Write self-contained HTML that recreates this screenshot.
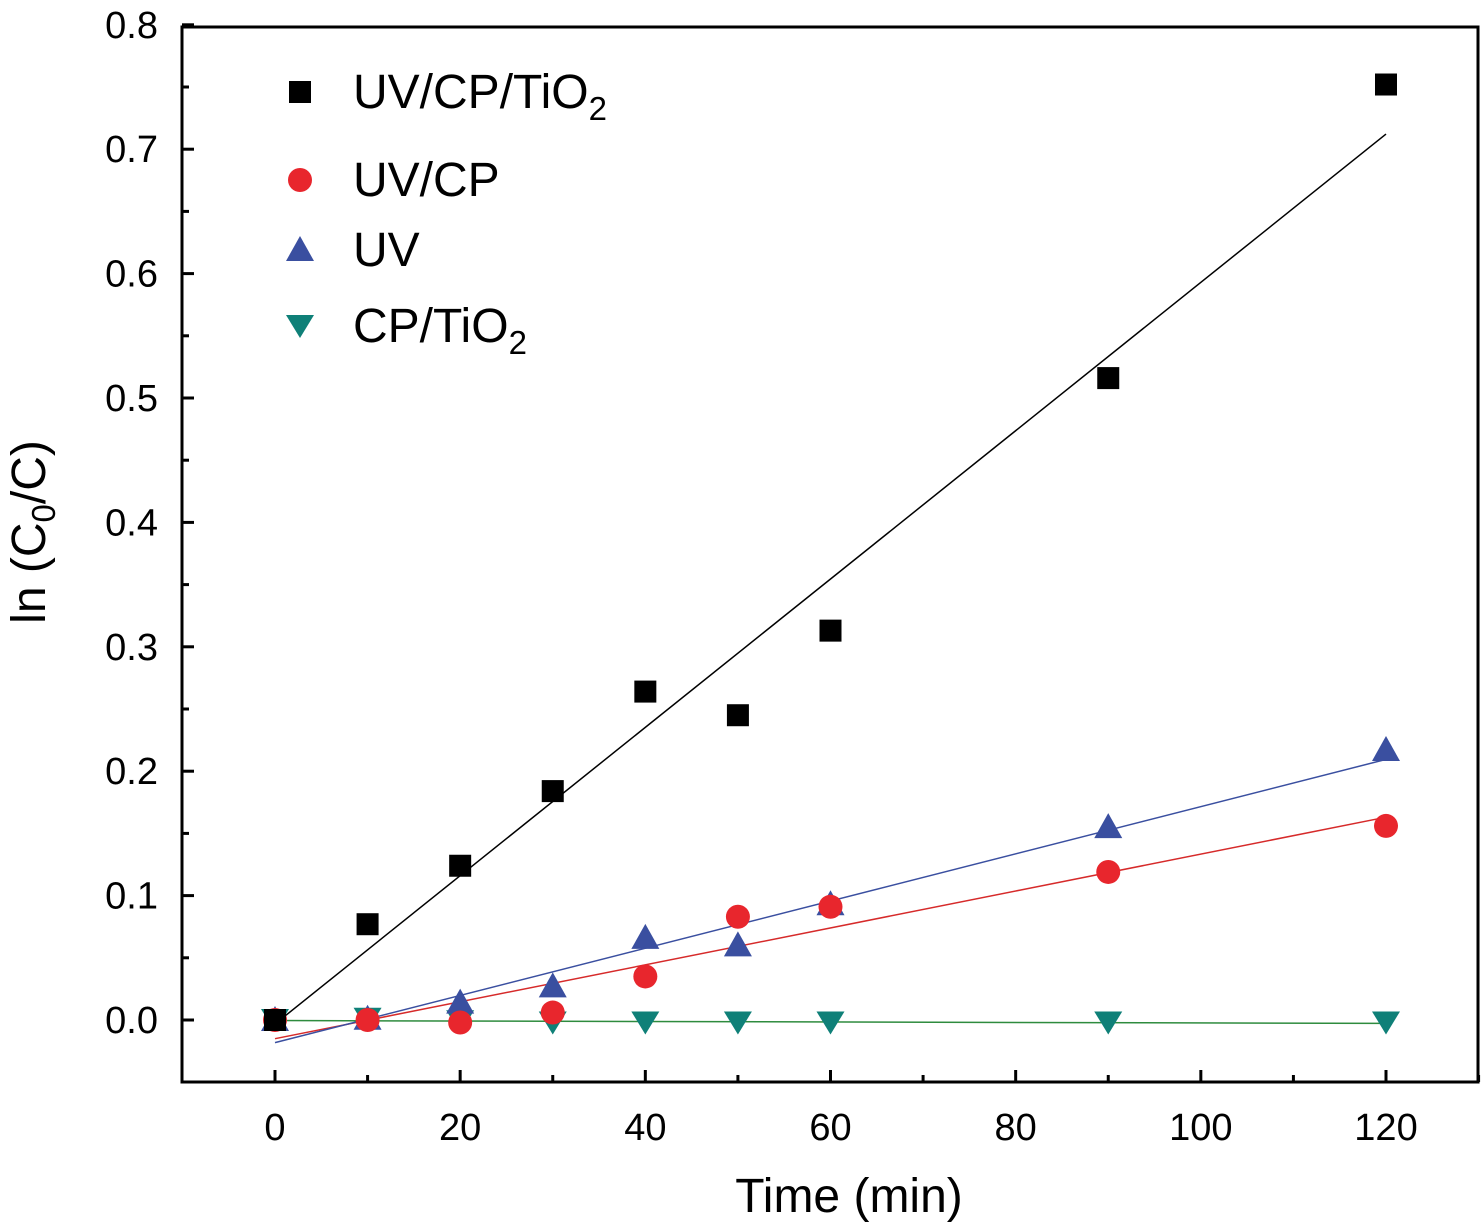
<!DOCTYPE html>
<html><head><meta charset="utf-8">
<style>
html,body{margin:0;padding:0;background:#fff;}
svg{display:block;font-family:"Liberation Sans",Arial,sans-serif;}
</style></head>
<body>
<svg id="chart" width="1482" height="1224" viewBox="0 0 1482 1224" xmlns="http://www.w3.org/2000/svg">
<g id="axes"></g>
<g id="fits"></g>
<g id="marks"></g>
<g id="legend"></g>
</svg>
<script>
const times = [0,10,20,30,40,50,60,90,120];
const uvCpTio2 = [0,0.077,0.124,0.184,0.264,0.245,0.313,0.516,0.752];
const uvCp = [0,0,-0.002,0.006,0.035,0.083,0.091,0.119,0.156];
const uvOnly = [0,0.001,0.014,0.027,0.066,0.060,0.093,0.155,0.217];
const cpTio2 = [0,0.001,-0.001,-0.002,-0.002,-0.002,-0.002,-0.002,-0.002];
const xTicks = [0,20,40,60,80,100,120];
const yTicks = [0.0,0.1,0.2,0.3,0.4,0.5,0.6,0.7,0.8];

const NS="http://www.w3.org/2000/svg";
const X0=275, XS=(1386-275)/120;
const Y0=1020, YS=1244;
const sx=v=>X0+v*XS, sy=v=>Y0-v*YS;
const L=182,R=1478,T=27,B=1082;
function el(tag,attrs,parent){const e=document.createElementNS(NS,tag);for(const k in attrs)e.setAttribute(k,attrs[k]);parent.appendChild(e);return e;}
const axes=document.getElementById('axes');
const frame=el('rect',{x:L,y:T,width:R-L,height:B-T,fill:'none',stroke:'#000','stroke-width':3},axes);


xTicks.forEach(v=>{
  const t=el('line',{x1:sx(v),x2:sx(v),y1:B,y2:B-12,stroke:'#000','stroke-width':3},axes);
  
  
  const m=el('line',{x1:sx(v+10),x2:sx(v+10),y1:B,y2:B-7,stroke:'#000','stroke-width':3},axes);
  
  
  const tx=el('text',{x:sx(v),y:1140,'font-size':38,'text-anchor':'middle'},axes);
  tx.textContent=v;
  
  
});
yTicks.forEach(v=>{
  const t=el('line',{x1:L,x2:L+12,y1:sy(v),y2:sy(v),stroke:'#000','stroke-width':3},axes);
  
  
  if(v>0){const m=el('line',{x1:L,x2:L+7,y1:sy(v-0.05),y2:sy(v-0.05),stroke:'#000','stroke-width':3},axes);
  
  }
  const tx=el('text',{x:158,y:sy(v)+13,'font-size':38,'text-anchor':'end'},axes);
  tx.textContent=v.toFixed(1);
  
  
});
const xt=el('text',{x:849,y:1212,'font-size':48,'text-anchor':'middle'},axes);
xt.textContent='Time (min)';


const yt=el('text',{x:0,y:0,'font-size':48,'text-anchor':'middle',transform:'translate(45,532) rotate(-90)'},axes);
yt.innerHTML='ln (C<tspan font-size="33" dy="10">0</tspan><tspan dy="-10">/C)</tspan>';



function fit(ys){const n=times.length;let mx=0,my=0;times.forEach((x,i)=>{mx+=x;my+=ys[i];});mx/=n;my/=n;let a=0,b=0;times.forEach((x,i)=>{a+=(x-mx)*(ys[i]-my);b+=(x-mx)*(x-mx);});const s=a/b;return [my-s*mx,s];}
const series=[
 {name:'uv-cp-tio2',data:uvCpTio2,color:'#000',line:'#000',shape:'square'},
 {name:'uv-cp',data:uvCp,color:'#e8262d',line:'#d62a2a',shape:'circle'},
 {name:'uv',data:uvOnly,color:'#3a4fa0',line:'#3a4fa0',shape:'up'},
 {name:'cp-tio2',data:cpTio2,color:'#0f8078',line:'#2e8b3e',shape:'down'}
];
function marker(shape,cx,cy,color,parent){
  if(shape==='square')return el('rect',{x:cx-11,y:cy-11,width:22,height:22,fill:color},parent);
  if(shape==='circle')return el('circle',{cx:cx,cy:cy,r:12,fill:color},parent);
  if(shape==='up')return el('polygon',{points:`${cx},${cy-14} ${cx-14},${cy+11} ${cx+14},${cy+11}`,fill:color},parent);
  return el('polygon',{points:`${cx},${cy+12} ${cx-14},${cy-11} ${cx+14},${cy-11}`,fill:color},parent);
}
const fits=document.getElementById('fits'),marks=document.getElementById('marks');
series.forEach(s=>{
  const [a,b]=fit(s.data);
  const ln=el('line',{x1:sx(0),y1:sy(a),x2:sx(120),y2:sy(a+b*120),stroke:s.line,'stroke-width':1.5},fits);
  
  
});
series.slice().reverse().forEach(s=>{
  times.forEach((t,i)=>{
    const m=marker(s.shape,sx(t),sy(s.data[i]),s.color,marks);
    
    
  });
});
const leg=document.getElementById('legend');
const labels=['UV/CP/TiO<tspan font-size="33" dy="12">2</tspan>','UV/CP','UV','CP/TiO<tspan font-size="33" dy="12">2</tspan>'];
const rowsY=[92,180,250,326];
series.forEach((s,i)=>{
  const m=marker(s.shape,300,rowsY[i],s.color,leg);
  
  
  const t=el('text',{x:353,y:rowsY[i]+16,'font-size':48},leg);
  t.innerHTML=labels[i];
  
  
});
</script>
</body></html>
